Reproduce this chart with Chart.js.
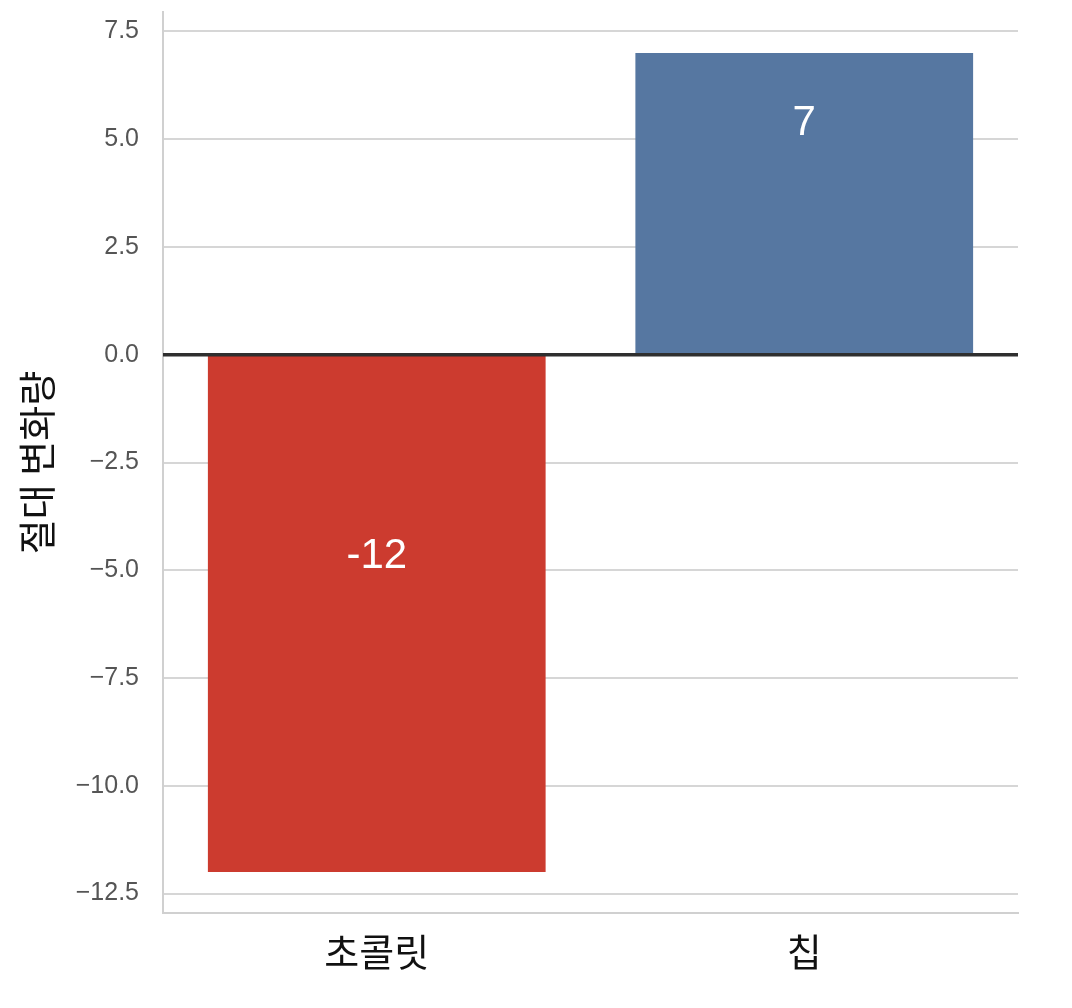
<!DOCTYPE html>
<html lang="ko">
<head>
    <meta charset="UTF-8">
    <title>절대 변화량</title>
    <script src="https://cdn.jsdelivr.net/npm/chart.js@4.4.1/dist/chart.umd.min.js"></script>
    <style>
        html, body { margin: 0; padding: 0; background: #ffffff; }
        .chart-container { position: relative; width: 1072px; height: 1008px; }
    </style>
</head>
<body>
    <div class="chart-container">
        <canvas id="changeChart"></canvas>
    </div>

    <script>
        // --- Datos ---
        const categories = ['초콜릿', '칩'];
        const changeValues = [-12, 7];
        const barColors = ['#cc3b2f', '#5677a1'];
        const yTicks = [7.5, 5.0, 2.5, 0.0, -2.5, -5.0, -7.5, -10.0, -12.5];
        const yTitle = '절대 변화량';

        const latinFont = '"Liberation Sans", Arial, sans-serif';
        const koreanFont = '"Noto Sans CJK KR", "Noto Sans", sans-serif';

        // Línea del cero y etiquetas dentro de las barras
        const zeroAndLabels = {
            id: 'zeroAndLabels',
            afterDatasetsDraw(chart) {
                const { ctx, chartArea, scales } = chart;
                const y0 = scales.y.getPixelForValue(0);
                ctx.save();
                ctx.strokeStyle = '#2f2f2f';
                ctx.lineWidth = 3.5;
                ctx.beginPath();
                ctx.moveTo(chartArea.left, y0);
                ctx.lineTo(chartArea.right, y0);
                ctx.stroke();

                const meta = chart.getDatasetMeta(0);
                ctx.fillStyle = '#ffffff';
                ctx.font = '42px ' + latinFont;
                ctx.textAlign = 'center';
                ctx.textBaseline = 'middle';
                meta.data.forEach((bar, i) => {
                    const v = changeValues[i];
                    const y = v >= 0 ? bar.y + 70 : y0 + 202;
                    ctx.fillText(String(v), bar.x, y);
                });
                ctx.restore();
            }
        };

        const ctx = document.getElementById('changeChart').getContext('2d');
        new Chart(ctx, {
            type: 'bar',
            data: {
                labels: categories,
                datasets: [{
                    data: changeValues,
                    backgroundColor: barColors,
                    borderWidth: 0,
                    barPercentage: 0.79,
                    categoryPercentage: 1.0
                }]
            },
            options: {
                responsive: true,
                maintainAspectRatio: false,
                animation: false,
                layout: { padding: { top: 12, right: 54, left: 0, bottom: 0 } },
                plugins: {
                    legend: { display: false },
                    tooltip: { enabled: false }
                },
                scales: {
                    x: {
                        grid: { display: false },
                        border: { display: true, color: '#d0d0d0', width: 2 },
                        ticks: {
                            color: '#111111',
                            font: { family: koreanFont, size: 38 },
                            padding: 8
                        },
                        afterFit(scale) {
                            scale.height = 95;
                            scale.paddingLeft = 0;
                            scale.paddingRight = 0;
                        }
                    },
                    y: {
                        min: -12.95,
                        max: 7.95,
                        afterBuildTicks(scale) {
                            scale.ticks = yTicks.map(v => ({ value: v }));
                        },
                        grid: { color: '#d6d6d6', lineWidth: 2, drawTicks: false },
                        border: { display: true, color: '#d0d0d0', width: 2 },
                        ticks: {
                            color: '#555555',
                            font: { family: latinFont, size: 25 },
                            padding: 24,
                            callback: v => v.toFixed(1).replace('-', '\u2212')
                        },
                        title: {
                            display: true,
                            text: yTitle,
                            color: '#111111',
                            font: { family: koreanFont, size: 38 },
                            padding: { top: 14, bottom: 12 }
                        },
                        afterFit(scale) {
                            scale.width = 163;
                            scale.paddingTop = 0;
                            scale.paddingBottom = 0;
                        }
                    }
                }
            },
            plugins: [zeroAndLabels]
        });
    </script>
</body>
</html>
